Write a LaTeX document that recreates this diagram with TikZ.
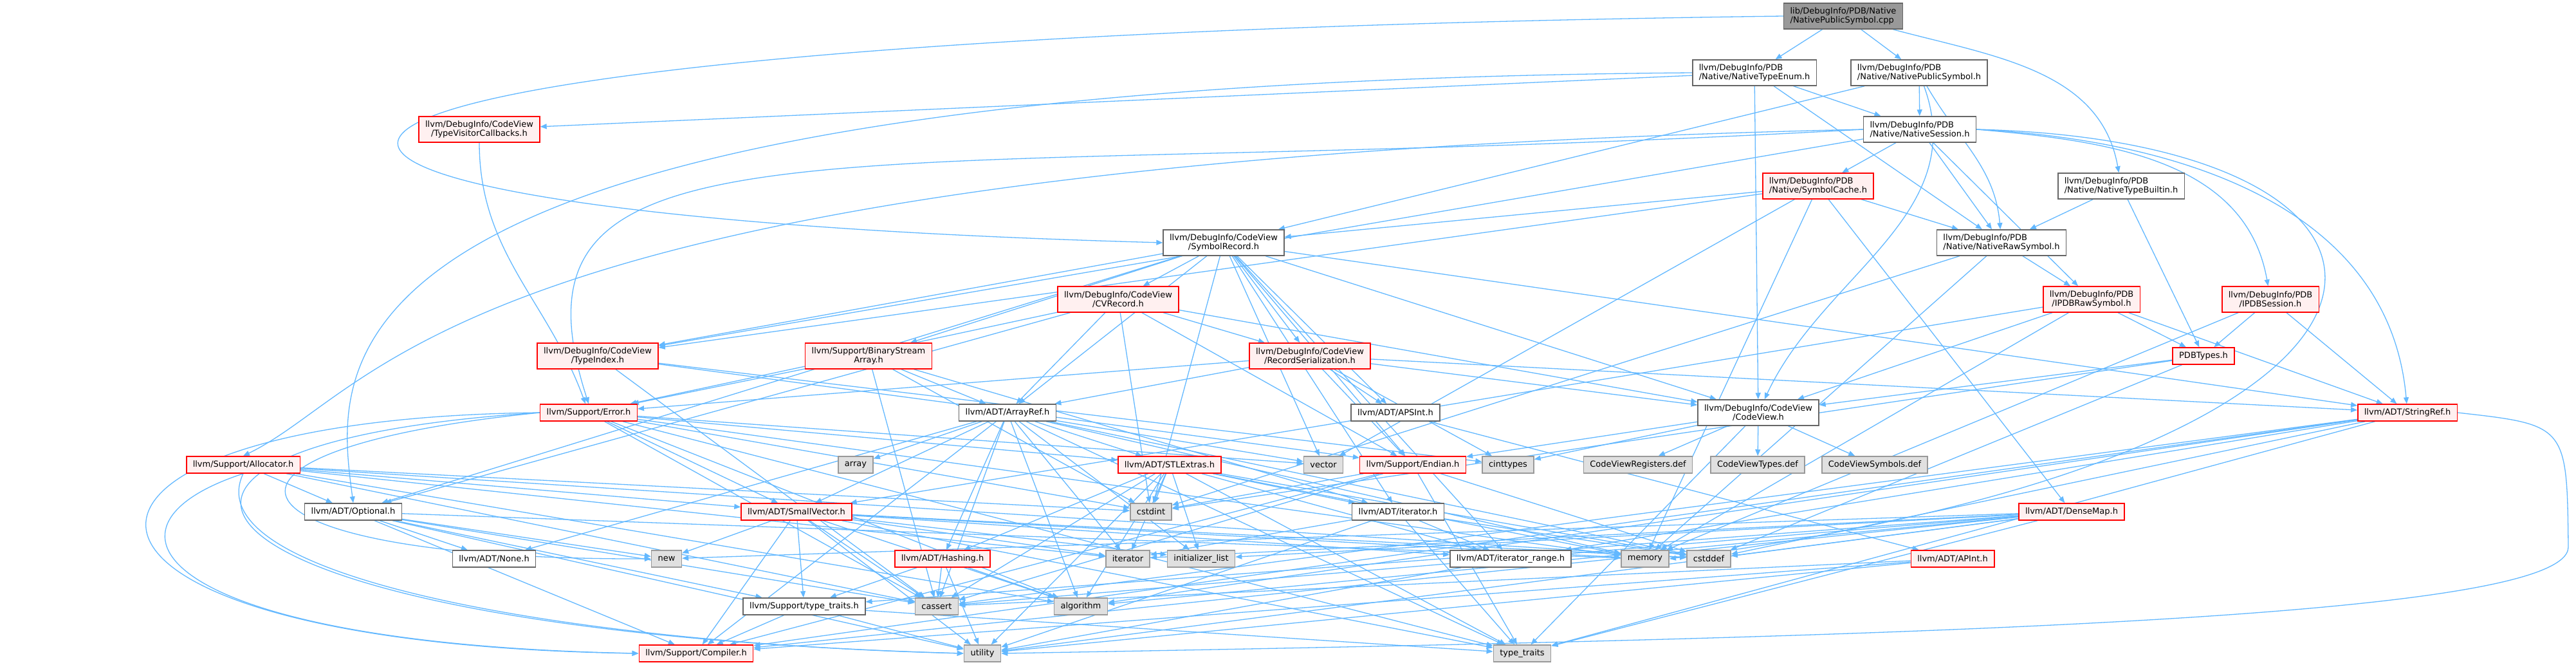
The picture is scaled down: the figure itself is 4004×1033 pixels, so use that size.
\documentclass[tikz,border=0pt]{standalone}
\usepackage{fontspec}
\setmainfont{DejaVu Sans}
\usetikzlibrary{arrows.meta}
\definecolor{edgeblue}{HTML}{63B8FF}
\definecolor{redline}{HTML}{FF0000}
\definecolor{redfill}{HTML}{FFF0F0}
\definecolor{grayfill}{HTML}{E0E0E0}
\definecolor{grayline}{HTML}{999999}
\definecolor{darkline}{HTML}{666666}
\definecolor{rootfill}{HTML}{999999}
\pgfdeclarelayer{bg}
\pgfsetlayers{bg,main}

\begin{document}
\begin{tikzpicture}[x=1pt,y=-1pt,>={Triangle[length=10pt,width=8pt]},
  incl/.style={draw=darkline,fill=white,line width=1.5pt,font=\fontsize{13}{14.3}\selectfont,
    inner xsep=10pt,inner ysep=2pt,minimum height=26pt,align=center},
  twoline/.style={minimum height=40pt},
  trunc/.style={incl,draw=redline,fill=redfill},
  sysinc/.style={incl,draw=grayline,fill=grayfill},
  rootfile/.style={incl,fill=rootfill},
  dep/.style={->,edgeblue,line width=1.3pt}]
\useasboundingbox (0,0) rectangle (4004,1033);

% top part: PDB native headers
\node[rootfile,twoline,align=left] (root) at (2865,25) {lib/DebugInfo/PDB/Native\\/NativePublicSymbol.cpp};
\node[incl,twoline,align=left] (ntenum) at (2727,113) {llvm/DebugInfo/PDB\\/Native/NativeTypeEnum.h};
\node[incl,twoline,align=left] (npubsym) at (2983,113) {llvm/DebugInfo/PDB\\/Native/NativePublicSymbol.h};
\node[incl,twoline,align=left] (nsession) at (2984,201) {llvm/DebugInfo/PDB\\/Native/NativeSession.h};
\node[trunc,twoline,align=left] (symcache) at (2826,289) {llvm/DebugInfo/PDB\\/Native/SymbolCache.h};
\node[incl,twoline,align=left] (ntbuiltin) at (3297,289) {llvm/DebugInfo/PDB\\/Native/NativeTypeBuiltin.h};
\node[trunc,twoline] (tvcb) at (745,201) {llvm/DebugInfo/CodeView\\/TypeVisitorCallbacks.h};
\node[incl,twoline,align=left] (nrawsym) at (3111,377) {llvm/DebugInfo/PDB\\/Native/NativeRawSymbol.h};
\node[incl,twoline] (symrec) at (1902,377) {llvm/DebugInfo/CodeView\\/SymbolRecord.h};
\node[trunc,twoline] (cvrec) at (1738,465) {llvm/DebugInfo/CodeView\\/CVRecord.h};
\node[trunc,twoline] (ipdbraw) at (3251,465) {llvm/DebugInfo/PDB\\/IPDBRawSymbol.h};
\node[trunc,twoline] (ipdbsess) at (3529,465) {llvm/DebugInfo/PDB\\/IPDBSession.h};
\node[trunc,twoline] (typeindex) at (929,553) {llvm/DebugInfo/CodeView\\/TypeIndex.h};
\node[trunc,twoline] (bsarray) at (1350,553) {llvm/Support/BinaryStream\\Array.h};
\node[trunc,twoline] (recser) at (2036,553) {llvm/DebugInfo/CodeView\\/RecordSerialization.h};
\node[trunc] (pdbtypes) at (3425,553) {PDBTypes.h};
\node[trunc] (error) at (915,641) {llvm/Support/Error.h};
\node[incl] (arrayref) at (1566,641) {llvm/ADT/ArrayRef.h};
\node[incl] (apsint) at (2169,641) {llvm/ADT/APSInt.h};
\node[incl,twoline] (codeview) at (2733,641) {llvm/DebugInfo/CodeView\\/CodeView.h};
\node[trunc] (stringref) at (3742,641) {llvm/ADT/StringRef.h};

% lower part: ADT, Support and system headers
\node[trunc] (allocator) at (378,722) {llvm/Support/Allocator.h};
\node[sysinc] (array) at (1330,722) {array};
\node[trunc] (stlextras) at (1818,722) {llvm/ADT/STLExtras.h};
\node[sysinc] (vector) at (2057,722) {vector};
\node[trunc] (endian) at (2196,722) {llvm/Support/Endian.h};
\node[sysinc] (cinttypes) at (2344,722) {cinttypes};
\node[sysinc] (cvregs) at (2546,722) {CodeViewRegisters.def};
\node[sysinc] (cvtypes) at (2732,722) {CodeViewTypes.def};
\node[sysinc] (cvsyms) at (2914,722) {CodeViewSymbols.def};
\node[incl] (optional) at (549,795) {llvm/ADT/Optional.h};
\node[trunc] (smallvec) at (1238,795) {llvm/ADT/SmallVector.h};
\node[sysinc] (cstdint) at (1789,795) {cstdint};
\node[incl] (iterh) at (2173,795) {llvm/ADT/iterator.h};
\node[trunc] (densemap) at (3220,795) {llvm/ADT/DenseMap.h};
\node[incl] (none) at (768,868) {llvm/ADT/None.h};
\node[sysinc] (new) at (1036,868) {new};
\node[trunc] (hashing) at (1465,868) {llvm/ADT/Hashing.h};
\node[sysinc] (iterator) at (1753,868) {iterator};
\node[sysinc] (initlist) at (1867,868) {initializer\_list};
\node[incl] (itrange) at (2348,868) {llvm/ADT/iterator\_range.h};
\node[sysinc] (memory) at (2557,868) {memory};
\node[sysinc] (cstddef) at (2656,868) {cstddef};
\node[trunc] (apint) at (3035,868) {llvm/ADT/APInt.h};
\node[incl] (lltraits) at (1250,942) {llvm/Support/type\_traits.h};
\node[sysinc] (cassert) at (1456,942) {cassert};
\node[sysinc] (algorithm) at (1680,942) {algorithm};
\node[trunc] (compiler) at (1082,1015) {llvm/Support/Compiler.h};
\node[sysinc] (utility) at (1527,1015) {utility};
\node[sysinc] (typetraits) at (2366,1015) {type\_traits};

\begin{pgfonlayer}{bg}
% includes of the top files
\draw[dep] (root) -- (ntenum);
\draw[dep] (root) -- (npubsym);
\draw[dep] (root) to[out=-15,in=100] (ntbuiltin);
\draw[dep] (root.west) .. controls (90,60) and (90,330) .. (symrec.west);
\draw[dep] (ntenum) -- (tvcb);
\draw[dep] (ntenum.west) .. controls (450,130) and (520,560) .. (optional.north);
\foreach \t in {codeview,nrawsym,nsession} \draw[dep] (ntenum) -- (\t);
\draw[dep] (npubsym) -- (nsession);
\draw[dep] (npubsym) -- (symrec);
\draw[dep] (npubsym) to[out=-60,in=95] (nrawsym);
\draw[dep] (npubsym) to[out=-70,in=65] (codeview);
\foreach \t in {symcache,nrawsym,ipdbraw,typeindex} \draw[dep] (nsession) -- (\t);
\draw[dep] (nsession.east) to[out=-5,in=100] (ipdbsess);
\draw[dep] (nsession.east) to[out=-3,in=95] (stringref);
\draw[dep] (nsession.east) .. controls (3850,220) and (3870,700) .. (memory.east);
\draw[dep] (nsession.west) .. controls (1300,290) and (760,150) .. (error.north);
\draw[dep] (nsession.west) .. controls (700,250) and (600,600) .. (allocator.north);
\foreach \t in {densemap,symrec,typeindex,nrawsym,vector,memory} \draw[dep] (symcache) -- (\t);
\foreach \t in {nrawsym,pdbtypes} \draw[dep] (ntbuiltin) -- (\t);
\draw[dep] (tvcb.south) to[out=-90,in=110] (error);
\foreach \t in {ipdbraw,cstdint,memory} \draw[dep] (nrawsym) -- (\t);
\foreach \t in {pdbtypes,smallvec,stringref,codeview,memory} \draw[dep] (ipdbraw) -- (\t);
\foreach \t in {pdbtypes,stringref,memory} \draw[dep] (ipdbsess) -- (\t);
\foreach \t in {codeview,cstddef,cstdint} \draw[dep] (pdbtypes) -- (\t);

% CodeView headers
\foreach \t in {apsint,arrayref,optional,stringref,iterh,itrange,cvrec,codeview,recser,typeindex,bsarray,endian,cstdint,vector}
  \draw[dep] (symrec) -- (\t);
\foreach \t in {arrayref,optional,codeview,recser,endian,error,cstdint} \draw[dep] (cvrec) -- (\t);
\foreach \t in {apsint,arrayref,stringref,codeview,endian,error,cinttypes} \draw[dep] (recser) -- (\t);
\foreach \t in {endian,cassert,cinttypes} \draw[dep] (typeindex) -- (\t);
\foreach \t in {arrayref,iterh,error,cassert,cstdint} \draw[dep] (bsarray) -- (\t);
\foreach \t in {cvregs,cvtypes,cvsyms,cinttypes,endian,typetraits} \draw[dep] (codeview) -- (\t);
\draw[dep] (apsint) -- (apint);

% ADT and Support headers
\foreach \t in {hashing,none,smallvec,stlextras,compiler,algorithm,array,cassert,cstddef,initlist,iterator,memory,typetraits,vector}
  \draw[dep] (arrayref) -- (\t);
\foreach \t in {stlextras,smallvec,algorithm,cassert,cstdint,memory,typetraits,vector}
  \draw[dep] (error) -- (\t);
\draw[dep] (error.west) .. controls (0,650) and (0,1000) .. (compiler.west);
\draw[dep] (error.west) .. controls (60,690) and (250,980) .. (utility.west);
\draw[dep] (error.west) .. controls (250,700) and (330,870) .. (new.west);
\foreach \t in {optional,smallvec,algorithm,cassert,cstddef,cstdint,iterator}
  \draw[dep] (allocator) -- (\t);
\draw[dep] (allocator.south) .. controls (120,820) and (250,1000) .. (compiler.west);
\draw[dep] (allocator.south) .. controls (300,900) and (900,1000) .. (utility.west);
\foreach \t in {none,compiler,lltraits,cassert,memory,new,utility} \draw[dep] (optional) -- (\t);
\foreach \t in {itrange,compiler,lltraits,algorithm,cassert,cstddef,initlist,iterator,memory,new,typetraits,utility}
  \draw[dep] (smallvec) -- (\t);
\foreach \t in {hashing,iterh,itrange,algorithm,cassert,cstddef,cstdint,initlist,iterator,memory,typetraits,utility}
  \draw[dep] (stlextras) -- (\t);
\foreach \t in {lltraits,algorithm,cassert,utility} \draw[dep] (hashing) -- (\t);
\foreach \t in {compiler,typetraits,utility} \draw[dep] (lltraits) -- (\t);
\foreach \t in {itrange,cstddef,iterator,typetraits,utility} \draw[dep] (iterh) -- (\t);
\draw[dep] (itrange) -- (utility);
\foreach \t in {itrange,compiler,algorithm,cassert,cstddef,typetraits} \draw[dep] (stringref) -- (\t);
\draw[dep] (stringref.east) .. controls (3990,660) .. (3992,850) .. controls (3990,960) and (3000,990) .. (utility.east);
\foreach \t in {compiler,cassert,cstddef,cstdint,typetraits} \draw[dep] (endian) -- (\t);
\foreach \t in {compiler,lltraits,algorithm,cassert,cstddef,initlist,iterator,new,typetraits,utility}
  \draw[dep] (densemap) -- (\t);
\foreach \t in {compiler,cassert,utility} \draw[dep] (apint) -- (\t);
\end{pgfonlayer}
\end{tikzpicture}
\end{document}
